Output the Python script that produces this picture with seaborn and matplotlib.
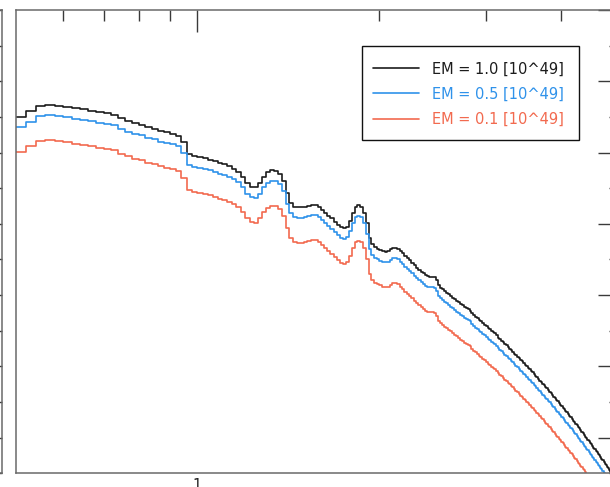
import numpy as np
import matplotlib
matplotlib.use("Agg")
import matplotlib.pyplot as plt
from matplotlib.patches import Rectangle
from matplotlib.ticker import FixedLocator, FixedFormatter, NullFormatter
import seaborn as sns

# Model spectra on a regular 20 eV energy grid (keV)
bin_start = 0.5
bin_stop = 5.0
bin_width = 0.02

series_labels = ["EM = 1.0 [10^49]", "EM = 0.5 [10^49]", "EM = 0.1 [10^49]"]
series_colors = ["#1c1c1c", "#2f92ea", "#f26a4f"]

# log10 of the photon flux in each energy bin
log_flux_em10 = [
    3.01, 3.17, 3.32, 3.34, 3.32, 3.29, 3.25, 3.22, 3.18, 3.14,
    3.11, 3.06, 2.97, 2.89, 2.83, 2.78, 2.72, 2.67, 2.61, 2.57,
    2.53, 2.47, 2.30, 1.95, 1.90, 1.87, 1.84, 1.80, 1.76, 1.71,
    1.67, 1.62, 1.55, 1.46, 1.32, 1.15, 1.04, 1.03, 1.15, 1.32,
    1.45, 1.50, 1.49, 1.41, 1.21, 0.87, 0.59, 0.48, 0.47, 0.47,
    0.48, 0.51, 0.54, 0.54, 0.48, 0.40, 0.31, 0.23, 0.15, 0.06,
    -0.02, -0.09, -0.13, -0.08, 0.09, 0.31, 0.48, 0.52, 0.48, 0.31,
    0.01, -0.40, -0.57, -0.65, -0.70, -0.73, -0.76, -0.78, -0.76, -0.71,
    -0.67, -0.67, -0.70, -0.76, -0.83, -0.90, -0.96, -1.02, -1.09, -1.16,
    -1.23, -1.29, -1.34, -1.39, -1.44, -1.46, -1.48, -1.48, -1.49, -1.58,
    -1.72, -1.79, -1.84, -1.89, -1.93, -1.98, -2.02, -2.07, -2.11, -2.16,
    -2.20, -2.25, -2.29, -2.33, -2.37, -2.40, -2.44, -2.51, -2.56, -2.61,
    -2.65, -2.70, -2.74, -2.78, -2.83, -2.87, -2.92, -2.96, -3.01, -3.04,
    -3.07, -3.13, -3.19, -3.23, -3.28, -3.32, -3.37, -3.41, -3.46, -3.50,
    -3.55, -3.59, -3.64, -3.68, -3.73, -3.77, -3.82, -3.86, -3.91, -3.95,
    -3.99, -4.04, -4.08, -4.13, -4.17, -4.22, -4.26, -4.31, -4.35, -4.40,
    -4.44, -4.49, -4.53, -4.58, -4.62, -4.67, -4.71, -4.76, -4.80, -4.85,
    -4.89, -4.94, -4.98, -5.03, -5.07, -5.11, -5.16, -5.20, -5.25, -5.29,
    -5.34, -5.38, -5.43, -5.47, -5.52, -5.56, -5.61, -5.65, -5.70, -5.74,
    -5.79, -5.83, -5.88, -5.92, -5.97, -6.01, -6.06, -6.10, -6.15, -6.19,
    -6.24, -6.28, -6.32, -6.37, -6.41, -6.46, -6.50, -6.55, -6.59, -6.64,
    -6.68, -6.73, -6.77, -6.82, -6.86, -6.91, -6.95, -7.00, -7.04, -7.09,
    -7.13, -7.18, -7.22, -7.27, -7.31,
]

log_flux_em05 = [
    2.71, 2.87, 3.02, 3.04, 3.02, 2.99, 2.95, 2.92, 2.88, 2.84,
    2.81, 2.76, 2.67, 2.59, 2.53, 2.48, 2.42, 2.37, 2.31, 2.27,
    2.23, 2.17, 2.00, 1.65, 1.60, 1.57, 1.54, 1.50, 1.46, 1.41,
    1.37, 1.32, 1.25, 1.16, 1.02, 0.85, 0.74, 0.73, 0.85, 1.02,
    1.15, 1.20, 1.19, 1.11, 0.91, 0.57, 0.29, 0.18, 0.17, 0.17,
    0.18, 0.21, 0.24, 0.24, 0.18, 0.10, 0.01, -0.07, -0.15, -0.24,
    -0.32, -0.39, -0.43, -0.38, -0.21, 0.01, 0.18, 0.22, 0.18, 0.01,
    -0.29, -0.70, -0.87, -0.95, -1.00, -1.03, -1.06, -1.08, -1.06, -1.01,
    -0.97, -0.97, -1.00, -1.06, -1.13, -1.20, -1.26, -1.32, -1.39, -1.46,
    -1.53, -1.59, -1.64, -1.69, -1.74, -1.76, -1.78, -1.78, -1.79, -1.88,
    -2.02, -2.09, -2.14, -2.19, -2.23, -2.28, -2.32, -2.37, -2.41, -2.46,
    -2.50, -2.55, -2.59, -2.63, -2.67, -2.70, -2.74, -2.81, -2.86, -2.91,
    -2.95, -3.00, -3.04, -3.08, -3.13, -3.17, -3.22, -3.26, -3.31, -3.34,
    -3.37, -3.43, -3.49, -3.53, -3.58, -3.62, -3.67, -3.71, -3.76, -3.80,
    -3.85, -3.89, -3.94, -3.98, -4.03, -4.07, -4.12, -4.16, -4.21, -4.25,
    -4.29, -4.34, -4.38, -4.43, -4.47, -4.52, -4.56, -4.61, -4.65, -4.70,
    -4.74, -4.79, -4.83, -4.88, -4.92, -4.97, -5.01, -5.06, -5.10, -5.15,
    -5.19, -5.24, -5.28, -5.33, -5.37, -5.41, -5.46, -5.50, -5.55, -5.59,
    -5.64, -5.68, -5.73, -5.77, -5.82, -5.86, -5.91, -5.95, -6.00, -6.04,
    -6.09, -6.13, -6.18, -6.22, -6.27, -6.31, -6.36, -6.40, -6.45, -6.49,
    -6.54, -6.58, -6.62, -6.67, -6.71, -6.76, -6.80, -6.85, -6.89, -6.94,
    -6.98, -7.03, -7.07, -7.12, -7.16, -7.21, -7.25, -7.30, -7.34, -7.39,
    -7.43, -7.48, -7.52, -7.57, -7.61,
]

log_flux_em01 = [
    2.01, 2.17, 2.32, 2.34, 2.32, 2.29, 2.25, 2.22, 2.18, 2.14,
    2.11, 2.06, 1.97, 1.89, 1.83, 1.78, 1.72, 1.67, 1.61, 1.57,
    1.53, 1.47, 1.30, 0.95, 0.90, 0.87, 0.84, 0.80, 0.76, 0.71,
    0.67, 0.62, 0.55, 0.46, 0.32, 0.15, 0.04, 0.03, 0.15, 0.32,
    0.45, 0.50, 0.49, 0.41, 0.21, -0.13, -0.41, -0.52, -0.53, -0.53,
    -0.52, -0.49, -0.46, -0.46, -0.52, -0.60, -0.69, -0.77, -0.85, -0.94,
    -1.02, -1.09, -1.13, -1.08, -0.91, -0.69, -0.52, -0.48, -0.52, -0.69,
    -0.99, -1.40, -1.57, -1.65, -1.70, -1.73, -1.76, -1.78, -1.76, -1.71,
    -1.67, -1.67, -1.70, -1.76, -1.83, -1.90, -1.96, -2.02, -2.09, -2.16,
    -2.23, -2.29, -2.34, -2.39, -2.44, -2.46, -2.48, -2.48, -2.49, -2.58,
    -2.72, -2.79, -2.84, -2.89, -2.93, -2.98, -3.02, -3.07, -3.11, -3.16,
    -3.20, -3.25, -3.29, -3.33, -3.37, -3.40, -3.44, -3.51, -3.56, -3.61,
    -3.65, -3.70, -3.74, -3.78, -3.83, -3.87, -3.92, -3.96, -4.01, -4.04,
    -4.07, -4.13, -4.19, -4.23, -4.28, -4.32, -4.37, -4.41, -4.46, -4.50,
    -4.55, -4.59, -4.64, -4.68, -4.73, -4.77, -4.82, -4.86, -4.91, -4.95,
    -4.99, -5.04, -5.08, -5.13, -5.17, -5.22, -5.26, -5.31, -5.35, -5.40,
    -5.44, -5.49, -5.53, -5.58, -5.62, -5.67, -5.71, -5.76, -5.80, -5.85,
    -5.89, -5.94, -5.98, -6.03, -6.07, -6.11, -6.16, -6.20, -6.25, -6.29,
    -6.34, -6.38, -6.43, -6.47, -6.52, -6.56, -6.61, -6.65, -6.70, -6.74,
    -6.79, -6.83, -6.88, -6.92, -6.97, -7.01, -7.06, -7.10, -7.15, -7.19,
    -7.24, -7.28, -7.32, -7.37, -7.41, -7.46, -7.50, -7.55, -7.59, -7.64,
    -7.68, -7.73, -7.77, -7.82, -7.86, -7.91, -7.95, -8.00, -8.04, -8.09,
    -8.13, -8.18, -8.22, -8.27, -8.31,
]

x_major = [1]
x_major_labels = ["1"]
x_minor = [0.6, 0.7, 0.8, 0.9, 2, 3, 4]
y_major = [10.0 ** k for k in range(-6, 7, 2)]
y_minor = [10.0 ** k for k in range(-7, 6, 2)]

sns.set_style("white")
plt.rcParams["font.family"] = ["DejaVu Sans"]

W_PX, H_PX = 610, 487
fig = plt.figure(figsize=(W_PX / 100, H_PX / 100), dpi=100)

# plot frame in pixel units (left, right, top, bottom)
left_px, right_px, top_px, bottom_px = 15.6, 619.8, 10.0, 473.3
ax = fig.add_axes([left_px / W_PX, 1 - bottom_px / H_PX,
                   (right_px - left_px) / W_PX, (bottom_px - top_px) / H_PX])


def px_to_axes(xp, yp):
    """Pixel position (from the top-left corner) to axes fraction."""
    return ((xp - left_px) / (right_px - left_px),
            (bottom_px - yp) / (bottom_px - top_px))


spine_color = "#6a6a6a"
tick_color = "#3a3a3a"

energy_edges = np.round(np.arange(bin_start, bin_stop + bin_width / 2, bin_width), 2)

ax.set_xscale("log")
ax.set_yscale("log")
for label, color, logf in zip(series_labels, series_colors,
                              [log_flux_em10, log_flux_em05, log_flux_em01]):
    flux = 10.0 ** np.asarray(logf)
    flux_steps = np.append(flux, flux[-1])
    sns.lineplot(x=energy_edges, y=flux_steps, ax=ax, color=color, linewidth=1.2,
                 drawstyle="steps-post", estimator=None, sort=False, label=label)

ax.set_xlim(0.5, 5.0)
ax.set_ylim(1e-7, 1e6)

ax.xaxis.set_major_locator(FixedLocator(x_major))
ax.xaxis.set_major_formatter(FixedFormatter(x_major_labels))
ax.xaxis.set_minor_locator(FixedLocator(x_minor))
ax.xaxis.set_minor_formatter(NullFormatter())
ax.yaxis.set_major_locator(FixedLocator(y_major))
ax.yaxis.set_minor_locator(FixedLocator(y_minor))
ax.yaxis.set_major_formatter(NullFormatter())
ax.yaxis.set_minor_formatter(NullFormatter())

ax.tick_params(which="both", direction="in", top=True, right=True,
               color=tick_color, width=1.0, labelsize=10.5, labelcolor="#222222")
ax.tick_params(which="major", length=15.8)
ax.tick_params(which="minor", length=7.9)
for sp in ax.spines.values():
    sp.set_color(spine_color)
    sp.set_linewidth(1.1)

# legend entries without their own frame, boxed by a separate rectangle
leg = ax.legend(loc="upper left", bbox_to_anchor=px_to_axes(372.7, 61.5),
                borderaxespad=0, borderpad=0, fontsize=10.5, handlelength=3.2,
                handletextpad=0.85, labelspacing=0.69, frameon=False,
                labelcolor="linecolor")
leg.set_zorder(6)
box_x0, box_y0 = px_to_axes(362, 140)
box_x1, box_y1 = px_to_axes(579, 46)
ax.add_patch(Rectangle((box_x0, box_y0), box_x1 - box_x0, box_y1 - box_y0,
                       transform=ax.transAxes, facecolor="white",
                       edgecolor="#111111", linewidth=1.0, zorder=5))

# neighbouring panel on the left, sharing the flux scale
ax0 = fig.add_axes([-0.3, 1 - bottom_px / H_PX, 0.3 + 1.5 / W_PX, (bottom_px - top_px) / H_PX])
ax0.set_yscale("log")
ax0.set_ylim(1e-7, 1e6)
ax0.yaxis.set_major_locator(FixedLocator(y_major))
ax0.yaxis.set_minor_locator(FixedLocator(y_minor))
ax0.yaxis.set_major_formatter(NullFormatter())
ax0.yaxis.set_minor_formatter(NullFormatter())
ax0.set_xticks([])
ax0.tick_params(which="both", direction="in", left=False, right=True,
                color=tick_color, width=1.0)
ax0.tick_params(which="major", length=15.8)
ax0.tick_params(which="minor", length=7.9)
for sp in ax0.spines.values():
    sp.set_color(spine_color)
    sp.set_linewidth(1.1)

fig.savefig("out.png", dpi=100, facecolor="white")
